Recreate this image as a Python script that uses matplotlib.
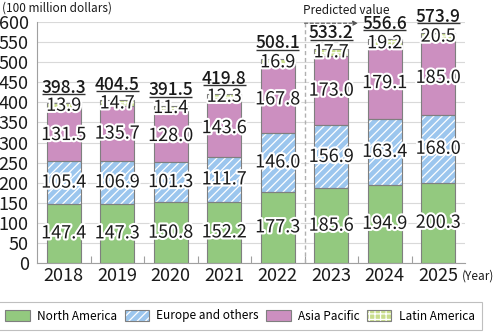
import matplotlib
matplotlib.use('Agg')
import matplotlib.pyplot as plt
import matplotlib.patheffects as pe
from matplotlib.patches import Patch
import numpy as np

plt.rcParams['font.family'] = ['Noto Sans CJK JP', 'DejaVu Sans']
plt.rcParams['hatch.linewidth'] = 0.9

years = ['2018', '2019', '2020', '2021', '2022', '2023', '2024', '2025']
north_america = [147.4, 147.3, 150.8, 152.2, 177.3, 185.6, 194.9, 200.3]
europe = [105.4, 106.9, 101.3, 111.7, 146.0, 156.9, 163.4, 168.0]
asia_pacific = [131.5, 135.7, 128.0, 143.6, 167.8, 173.0, 179.1, 185.0]
latin_america = [13.9, 14.7, 11.4, 12.3, 16.9, 17.7, 19.2, 20.5]
totals = [398.3, 404.5, 391.5, 419.8, 508.1, 533.2, 556.6, 573.9]

series = [
    ('North America', north_america, '#93c97f', None),
    ('Europe and others', europe, '#9cc6ee', '////'),
    ('Asia Pacific', asia_pacific, '#cc8fc0', None),
    ('Latin America', latin_america, '#c9dd8c', '+++'),
]

fig = plt.figure(figsize=(4.94, 3.33), dpi=100)
ax = fig.add_axes([37 / 494, 70 / 333, 428 / 494, 241 / 333])

x = np.arange(len(years))
width = 0.64
bottom = np.zeros(len(years))
stroke = [pe.withStroke(linewidth=3, foreground='white')]
handles = []
for name, vals, color, hatch in series:
    vals = np.array(vals)
    if hatch:
        ax.bar(x, vals, width, bottom=bottom, color=color, edgecolor='white',
               hatch=hatch, linewidth=0, zorder=2)
    else:
        ax.bar(x, vals, width, bottom=bottom, color=color, linewidth=0, zorder=2)
    ax.bar(x, vals, width, bottom=bottom, fill=False, edgecolor='#7f7f7f',
           linewidth=0.8, zorder=3)
    for xi, b, v in zip(x, bottom, vals):
        ax.text(xi, b + v / 2, f'{v:.1f}', ha='center', va='center',
                fontsize=13, color='#1a1a1a', path_effects=stroke, zorder=5)
    fill = Patch(facecolor=color, edgecolor='white' if hatch else color,
                 hatch=hatch, linewidth=0)
    edge = Patch(fill=False, edgecolor='#7f7f7f', linewidth=0.8)
    handles.append((fill, edge))
    bottom += vals

# totals, underlined
for xi, t in zip(x, totals):
    ax.text(xi, t + 26, f'{t:.1f}', ha='center', va='baseline', fontsize=12.5,
            color='#1a1a1a', fontweight='medium', zorder=5)
    ax.plot([xi - 0.4, xi + 0.4], [t + 23, t + 23], color='#333333', lw=1,
            zorder=5, solid_capstyle='butt')

# forecast marker
ax.plot([4.5, 4.5], [0, 597], color='#b0b0b0', lw=1, ls=(0, (3, 2)), zorder=1)
ax.annotate('', xy=(5.5, 597), xytext=(4.5, 597),
            arrowprops=dict(arrowstyle='-|>', color='#555555', lw=0.8,
                            ls=(0, (3, 2)), mutation_scale=7,
                            shrinkA=0, shrinkB=0), zorder=1)
fig.text(303 / 494, 1 - 10 / 333, 'Predicted value', fontsize=8.5,
         ha='left', va='center', color='#1a1a1a')

ax.set_xlim(-0.5, len(years) - 0.5)
ax.set_ylim(0, 600)
ax.set_yticks(np.arange(0, 601, 50))
ax.set_xticks(x)
ax.set_xticklabels(years)
ax.set_xticks(np.arange(0.5, len(years) - 0.5), minor=True)
ax.tick_params(axis='y', length=0, pad=6, labelsize=13, labelcolor='#1a1a1a')
ax.tick_params(axis='x', which='major', length=0, pad=3, labelsize=13,
               labelcolor='#1a1a1a')
ax.tick_params(axis='x', which='minor', direction='in', length=5,
               color='#a0a0a0', width=0.8)
ax.grid(axis='y', color='#d9d9d9', lw=0.8, zorder=0)
ax.set_axisbelow(True)
for s in ['top', 'right']:
    ax.spines[s].set_visible(False)
for s in ['left', 'bottom']:
    ax.spines[s].set_color('#a0a0a0')
    ax.spines[s].set_linewidth(0.8)

fig.text(2 / 494, 1 - 8 / 333, '(100 million dollars)', fontsize=8.5,
         ha='left', va='center', color='#1a1a1a')
fig.text(462 / 494, 1 - 276 / 333, '(Year)', fontsize=8.5,
         ha='left', va='center', color='#1a1a1a')

leg = fig.legend(handles, [s[0] for s in series], loc='center',
                 bbox_to_anchor=(240 / 494, 1 - 316 / 333), ncol=4,
                 fontsize=8.5, frameon=True, fancybox=False,
                 handlelength=2.1, handleheight=1.0, handletextpad=0.6,
                 columnspacing=0.6, borderpad=0.6)
leg.get_frame().set_edgecolor('#b0b0b0')
leg.get_frame().set_linewidth(0.8)

fig.savefig('out.png', dpi=100)
